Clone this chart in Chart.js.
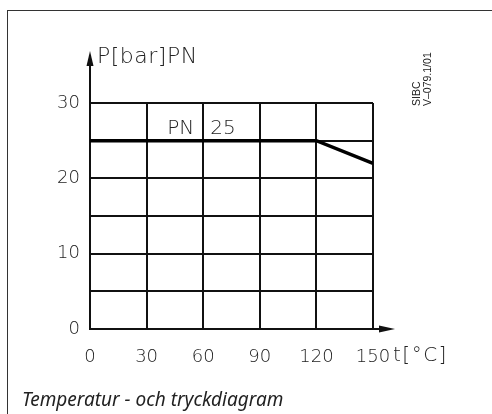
<!DOCTYPE html>
<html>
<head>
<meta charset="utf-8">
<script src="https://cdn.jsdelivr.net/npm/chart.js@4"></script>
<style>
  html, body { margin: 0; padding: 0; background: #fff; }
  #wrap { position: relative; width: 492px; height: 414px; overflow: hidden; }
  #frame { position: absolute; left: 7px; top: 10px; width: 500px; height: 420px;
           border-top: 1px solid #333; border-left: 1px solid #333; }
  #caption { position: absolute; left: 22px; top: 386px; font-family: 'Noto Sans', sans-serif;
             font-style: italic; font-size: 19px; color: #222; white-space: nowrap; }
  canvas { position: absolute; left: 0; top: 0; }
</style>
</head>
<body>
<div id="wrap">
  <div id="frame"></div>
  <canvas id="chart" width="492" height="414"></canvas>
  <div id="caption">Temperatur - och tryckdiagram</div>
</div>
<script>
const temps = [0, 120, 150];
const pressures = [25, 25, 22];
const xTickValues = [0, 30, 60, 90, 120, 150];
const yTickValues = [0, 10, 20, 30];

const cadFont = "'DejaVu Sans', sans-serif";

const extras = {
    id: 'extras',
    afterDraw(chart) {
        const { ctx, chartArea, scales } = chart;
        const x0 = scales.x.getPixelForValue(0);
        const y0 = scales.y.getPixelForValue(0);
        ctx.save();
        ctx.strokeStyle = '#111';
        ctx.fillStyle = '#111';
        ctx.lineWidth = 2;

        // y axis arrow
        ctx.beginPath();
        ctx.moveTo(x0, chartArea.top);
        ctx.lineTo(x0, chartArea.top - 40);
        ctx.stroke();
        ctx.beginPath();
        ctx.moveTo(x0, chartArea.top - 52);
        ctx.lineTo(x0 - 3.5, chartArea.top - 37);
        ctx.lineTo(x0 + 3.5, chartArea.top - 37);
        ctx.closePath();
        ctx.fill();

        // x axis arrow
        ctx.beginPath();
        ctx.moveTo(chartArea.right, y0);
        ctx.lineTo(chartArea.right + 8, y0);
        ctx.stroke();
        ctx.beginPath();
        ctx.moveTo(chartArea.right + 22, y0);
        ctx.lineTo(chartArea.right + 6, y0 - 3.5);
        ctx.lineTo(chartArea.right + 6, y0 + 3.5);
        ctx.closePath();
        ctx.fill();

        ctx.fillStyle = '#222';
        ctx.textBaseline = 'middle';
        ctx.textAlign = 'left';
        ctx.font = "200 22px " + cadFont;
        ctx.letterSpacing = '0.5px';
        ctx.fillText('P[bar]PN', x0 + 7, chartArea.top - 46);

        ctx.font = "200 20px " + cadFont;
        ctx.letterSpacing = '1.5px';
        ctx.fillText('t[°C]', chartArea.right + 20, scales.x.bottom - 13);
        ctx.letterSpacing = '0px';

        // PN 25 label
        const x60 = scales.x.getPixelForValue(60);
        const y25 = scales.y.getPixelForValue(25);
        ctx.font = "200 20px " + cadFont;
        ctx.textBaseline = 'alphabetic';
        ctx.textAlign = 'right';
        ctx.fillText('PN', x60 - 9, y25 - 7);
        ctx.textAlign = 'left';
        ctx.fillText('25', x60 + 7, y25 - 7);

        // drawing reference
        ctx.save();
        ctx.translate(chartArea.right + 49, chartArea.top + 3);
        ctx.rotate(-Math.PI / 2);
        ctx.font = "10.5px 'Liberation Sans', sans-serif";
        ctx.textAlign = 'left';
        ctx.fillText('SIBC', 0, -2);
        ctx.fillText('V\u2013079.1/01', 0, 9);
        ctx.restore();

        ctx.restore();
    }
};

new Chart(document.getElementById('chart'), {
    type: 'line',
    data: {
        datasets: [{
            data: temps.map((t, i) => ({ x: t, y: pressures[i] })),
            borderColor: '#000',
            borderWidth: 3.5,
            pointRadius: 0,
            tension: 0
        }]
    },
    options: {
        responsive: false,
        animation: false,
        events: [],
        layout: { padding: { left: 0, right: 119, top: 103, bottom: 45 } },
        plugins: { legend: { display: false }, tooltip: { enabled: false } },
        scales: {
            x: {
                type: 'linear',
                min: 0,
                max: 150,
                afterFit: s => { s.height = 40; },
                afterBuildTicks: s => { s.ticks = xTickValues.map(v => ({ value: v })); },
                grid: { color: '#111', lineWidth: 2, drawTicks: false },
                border: { color: '#111', width: 2 },
                ticks: { padding: 18, color: '#222', font: { family: cadFont, size: 18, weight: 200 } }
            },
            y: {
                min: 0,
                max: 30,
                afterFit: s => { s.width = 90; },
                ticks: {
                    stepSize: 5,
                    padding: 10,
                    color: '#222',
                    font: { family: cadFont, size: 18, weight: 200 },
                    callback: v => yTickValues.includes(v) ? v : ''
                },
                grid: { color: '#111', lineWidth: 2, drawTicks: false },
                border: { color: '#111', width: 2 }
            }
        }
    },
    plugins: [extras]
});
</script>
</body>
</html>
